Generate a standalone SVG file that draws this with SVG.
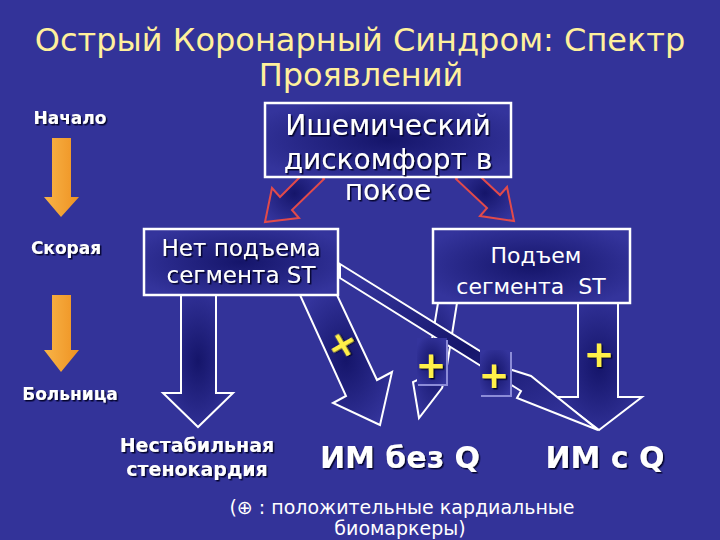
<svg xmlns="http://www.w3.org/2000/svg" width="720" height="540" viewBox="0 0 720 540">
<defs>
<radialGradient id="g" cx="50%" cy="50%" r="60%">
<stop offset="0" stop-color="#15156a"/>
<stop offset="1" stop-color="#34349c"/>
</radialGradient>
<linearGradient id="og" x1="0" y1="0" x2="1" y2="0">
<stop offset="0" stop-color="#f8b448"/>
<stop offset="1" stop-color="#ee9222"/>
</linearGradient>
<filter id="sh" x="-10%" y="-10%" width="120%" height="130%">
<feDropShadow dx="1.5" dy="1.5" stdDeviation="0.4" flood-color="#000020" flood-opacity="0.9"/>
</filter>
<style>
text{font-family:"DejaVu Sans","Noto Sans",sans-serif;}
.title{fill:#fff09c;font-size:32px;text-anchor:middle;}
.box{fill:url(#g);stroke:#ffffff;stroke-width:2.5;}
.arr{fill:url(#g);stroke:#ffffff;stroke-width:2;stroke-linejoin:miter;}
.red{fill:url(#g);stroke:#e24a4a;stroke-width:2;}
.org{fill:url(#og);}
.wt{fill:#ffffff;text-anchor:middle;}
.sd{filter:url(#sh);}
.lab{fill:#ffffff;font-weight:bold;text-anchor:middle;font-size:17px;}
.plus{fill:#fff04a;font-weight:bold;font-size:37px;text-anchor:middle;}
.pbox{fill:url(#g);}
.pedge{fill:none;stroke:#8c8cd8;stroke-width:2;}
</style>
</defs>
<rect x="0" y="0" width="720" height="540" fill="#333399"/>

<g id="title">
<text class="title" x="360" y="51">Острый Коронарный Синдром: Спектр</text>
<text class="title" x="361" y="86">Проявлений</text>
</g>

<g id="timeline">
<text class="lab sd" x="70" y="124">Начало</text>
<polygon class="org" points="52,138 71,138 71,197 79,197 61,217 44,197 52,197"/>
<text class="lab sd" x="66" y="254">Скорая</text>
<polygon class="org" points="52,295 71,295 71,350 79,350 61,372 44,350 52,350"/>
<text class="lab sd" x="70" y="400">Больница</text>
</g>

<g id="connectors">
<polygon class="red" points="312,165 324,179 292,210 299,218 265,222 272,188 280,197"/>
<polygon class="red" points="468,165 500,195 507,187 514,221 480,216 487,208 456,179"/>
<polygon class="arr" points="181,295 216,295 216,393 233,393 198,427 163,393 181,393"/>
<polygon class="arr" points="300,295 337,295 377,380 392,372 380,425 333,403 346,396"/>
<polygon class="arr" points="438,303 457,303 445,378 442,388 419,418 413,382 426,376"/>
<polygon class="arr" points="578,303 618,303 618,397 642,397 599,430 556,397 578,397"/>
<polygon class="arr" points="340,264 509,369 531,376 598,430 517,398 521,391 340,278"/>
</g>

<g id="node-top">
<rect class="box" x="265" y="103" width="246" height="74"/>
<text class="wt sd" x="388" y="135" font-size="28">Ишемический</text>
<text class="wt sd" x="388" y="169" font-size="28">дискомфорт в</text>
<text class="wt sd" x="388" y="200" font-size="28">покое</text>
</g>

<g id="node-nost">
<rect class="box" x="144" y="229" width="194" height="66"/>
<text class="wt sd" x="241" y="256" font-size="23">Нет подъема</text>
<text class="wt sd" x="241" y="283" font-size="23">сегмента ST</text>
</g>

<g id="node-st">
<rect class="box" x="433" y="229" width="197" height="74"/>
<text class="wt" x="536" y="263" font-size="22">Подъем</text>
<text class="wt" x="531" y="294" font-size="22" xml:space="preserve">сегмента  ST</text>
</g>

<g id="plus-marks">
<text class="plus sd" x="342" y="357" transform="rotate(-30 342 344)">+</text>
<rect class="pbox" x="417" y="338" width="30" height="47"/>
<polyline class="pedge" points="447,340 447,385 418,385"/>
<text class="plus sd" x="431" y="378">+</text>
<rect class="pbox" x="480" y="350" width="31" height="46"/>
<polyline class="pedge" points="511,352 511,396 481,396"/>
<text class="plus sd" x="494" y="388">+</text>
<text class="plus sd" x="599" y="367">+</text>
</g>

<g id="outcomes">
<text class="wt sd" x="197" y="452" font-size="19" font-weight="bold">Нестабильная</text>
<text class="wt sd" x="197" y="476" font-size="19" font-weight="bold">стенокардия</text>
<text class="wt sd" x="400" y="468" font-size="30" font-weight="bold">ИМ без Q</text>
<text class="wt sd" x="605" y="468" font-size="30" font-weight="bold">ИМ с Q</text>
</g>

<g id="footnote">
<text class="wt" x="402" y="514" font-size="19">(⊕ : положительные кардиальные</text>
<text class="wt" x="400" y="535" font-size="19">биомаркеры)</text>
</g>
</svg>
